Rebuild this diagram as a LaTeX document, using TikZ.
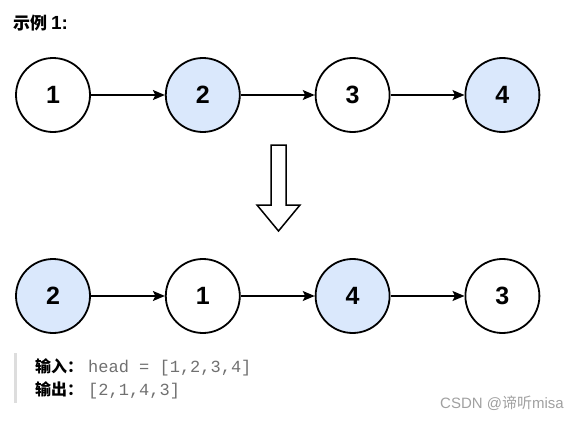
\documentclass[tikz,border=0pt]{standalone}
\usepackage{fontspec}
\setmainfont{Liberation Sans}
\setmonofont{Liberation Mono}
\newfontfamily\cjk{Noto Sans CJK SC}
\usetikzlibrary{arrows.meta}
\usetikzlibrary{positioning}
\definecolor{nodeblue}{HTML}{DAE8FC}
\definecolor{codegray}{HTML}{707070}
\definecolor{bargray}{HTML}{DDDDDD}
\definecolor{markgray}{HTML}{A0A0A0}
\tikzstyle{every node}+=[inner sep=0pt]

\begin{document}
\begin{tikzpicture}[x=1pt,y=-1pt]
        \tikzstyle{listnode}=[draw=black, line width=1.8pt, circle, minimum size=74pt, fill=white, font=\fontsize{25}{25}\selectfont\bfseries]
        \tikzstyle{bluenode}=[listnode, fill=nodeblue]
        \tikzstyle{link}=[draw=black, line width=1.5pt, -{Stealth[length=12pt,width=10pt,inset=2.5pt]}]
        \tikzstyle{label}=[anchor=base west, font=\fontsize{16}{16}\selectfont\cjk\bfseries]
        \tikzstyle{code}=[anchor=base west, text=codegray, font=\fontsize{17}{17}\selectfont\ttfamily]
        \useasboundingbox (0,0) rectangle (579,423);
        % title
        \node[label, font=\fontsize{17}{17}\selectfont\cjk\bfseries] (title) at (13,30) {示例 {\normalfont\bfseries\fontsize{19}{19}\selectfont 1:}};
        % list before
        \node[listnode] (a1) at (53,95) {1};
        \node[bluenode, right=74pt of a1] (a2) {2};
        \node[listnode, right=74pt of a2] (a3) {3};
        \node[bluenode, right=74pt of a3] (a4) {4};
        \draw[link] (a1) -- (a2);
        \draw[link] (a2) -- (a3);
        \draw[link] (a3) -- (a4);
        % hollow arrow
        \draw[black, line width=1.5pt, line join=miter] (271,145) -- (286,145) -- (286,205) -- (300,205)
            -- (278.5,231) -- (257,205) -- (271,205) -- cycle;
        % list after
        \node[bluenode] (b1) at (53,296) {2};
        \node[listnode, right=74pt of b1] (b2) {1};
        \node[bluenode, right=74pt of b2] (b3) {4};
        \node[listnode, right=74pt of b3] (b4) {3};
        \draw[link] (b1) -- (b2);
        \draw[link] (b2) -- (b3);
        \draw[link] (b3) -- (b4);
        % input / output
        \fill[bargray] (14,353) rectangle (16.5,403);
        \node[label] (inlabel) at (35,372) {输入：};
        \node[code] (incode) at (88,372) {head = [1,2,3,4]};
        \node[label] (outlabel) at (35,395) {输出：};
        \node[code] (outcode) at (88,395) {[2,1,4,3]};
        % watermark
        \node[anchor=base west, text=markgray, font=\fontsize{15}{15}\selectfont] (mark) at (440,408) {CSDN @{\cjk 谛听}misa};
\end{tikzpicture}
\end{document}
